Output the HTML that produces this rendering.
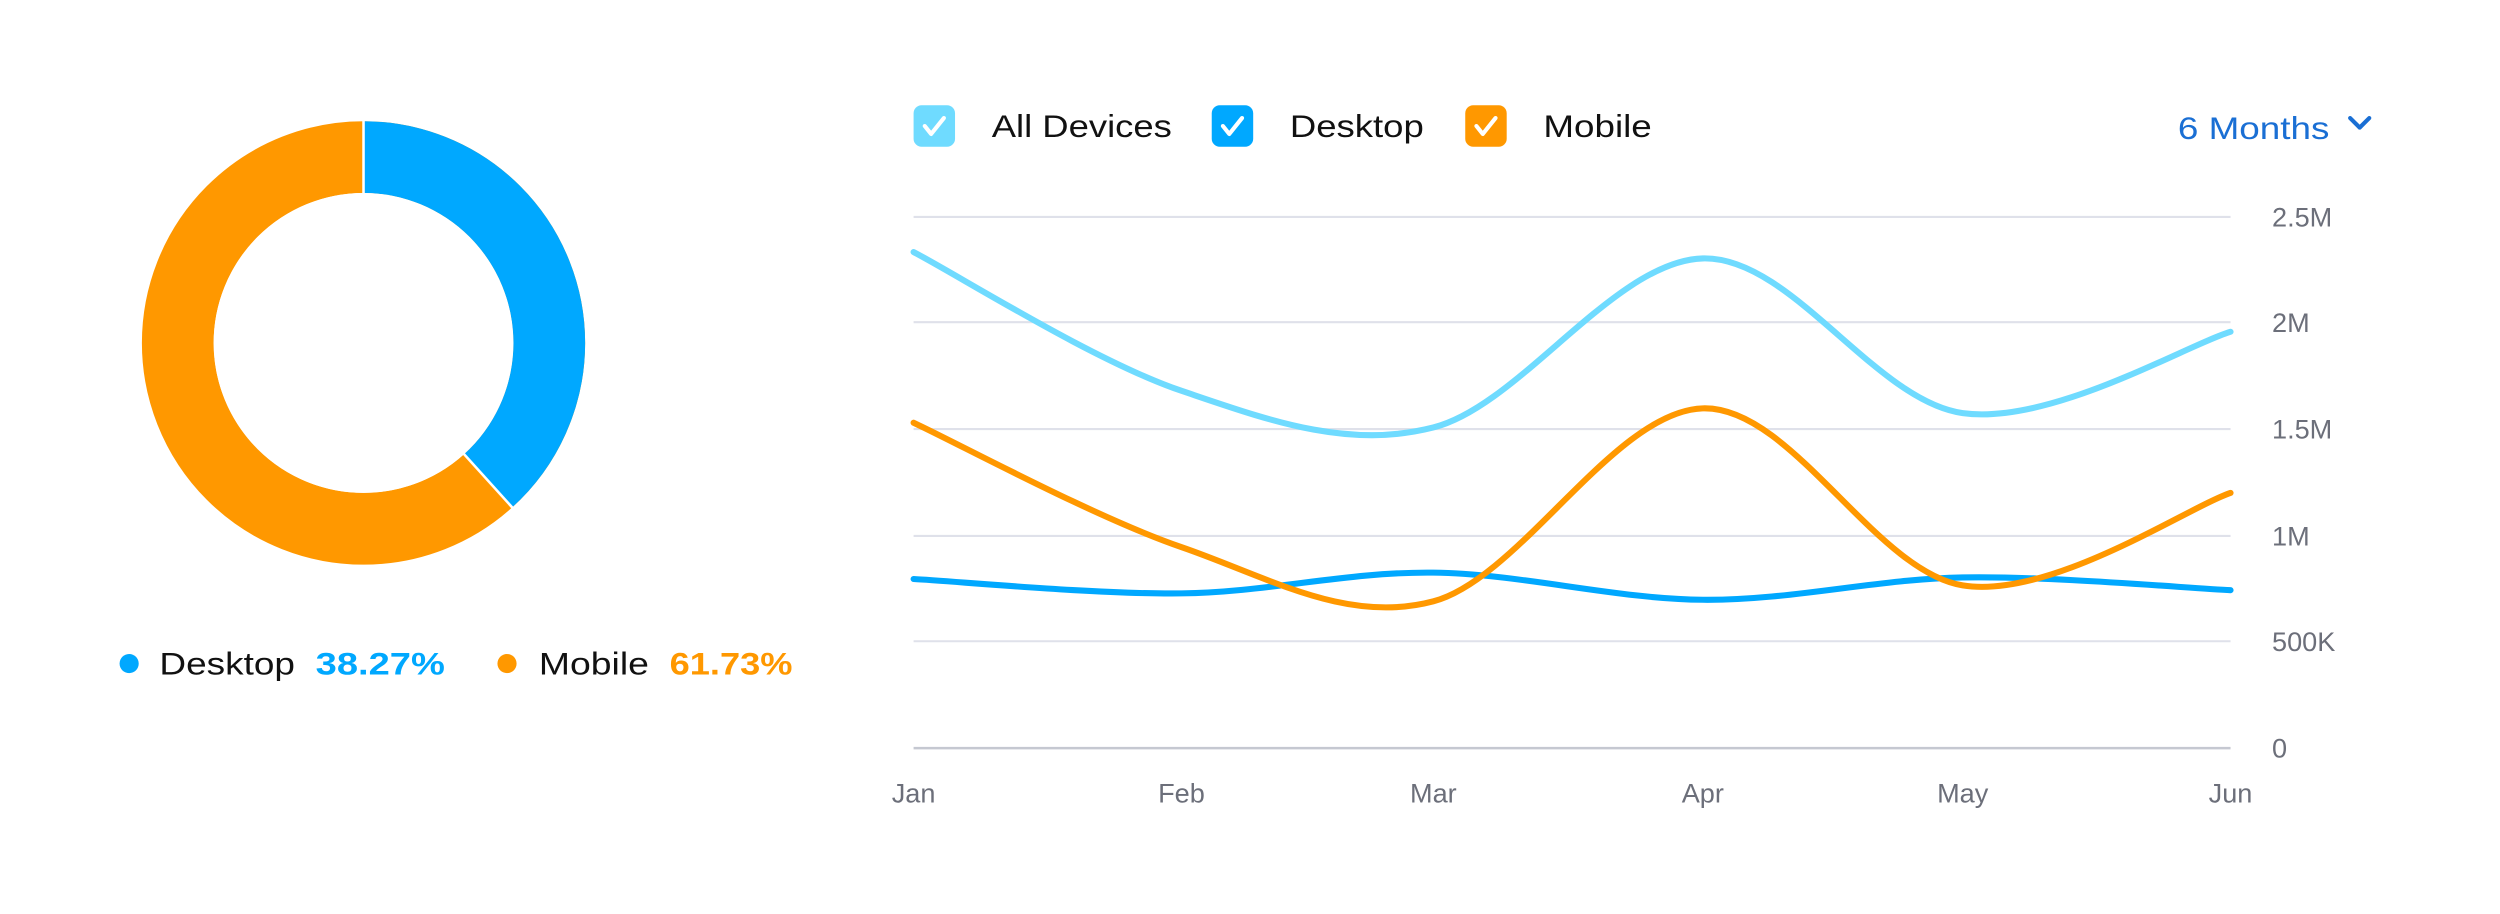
<!DOCTYPE html>
<html><head><meta charset="utf-8">
<style>
html,body{margin:0;padding:0;background:#fff;}
svg{display:block;width:2500px;height:914px;}
text{font-family:"Liberation Sans",sans-serif;}
</style></head>
<body>
<svg viewBox="0 0 1568 573" preserveAspectRatio="none" xmlns="http://www.w3.org/2000/svg">
  <circle cx="228" cy="215" r="116.5" fill="none" stroke="#ff9800" stroke-width="45"/>
  <circle cx="228" cy="215" r="116.5" fill="none" stroke="#00a8ff" stroke-width="45"
    stroke-dasharray="280.13 1000" transform="rotate(-90 228 215)"/>
  <line x1="228" y1="215" x2="228" y2="74" stroke="#fff" stroke-width="1.6"/>
  <line x1="228" y1="215" x2="322.5" y2="319.5" stroke="#fff" stroke-width="1.6"/>
  <circle cx="228" cy="215" r="94" fill="#fff"/>

  <circle cx="81" cy="416" r="6" fill="#00a8ff"/>
  <text x="100" y="423" font-size="20" fill="#111" textLength="85" lengthAdjust="spacingAndGlyphs">Desktop</text>
  <text x="198" y="423" font-size="20" font-weight="bold" fill="#00a8ff" textLength="81" lengthAdjust="spacingAndGlyphs">38.27%</text>
  <circle cx="318" cy="416" r="6" fill="#ff9800"/>
  <text x="338" y="423" font-size="20" fill="#111" textLength="69" lengthAdjust="spacingAndGlyphs">Mobile</text>
  <text x="420" y="423" font-size="20" font-weight="bold" fill="#ff9800" textLength="77" lengthAdjust="spacingAndGlyphs">61.73%</text>

  <rect x="573" y="66" width="26" height="26" rx="5" fill="#6fdbff"/>
  <path d="M580,79 l4,5 l8,-10" fill="none" stroke="#fff" stroke-width="2.6" stroke-linecap="round" stroke-linejoin="round"/>
  <text x="622" y="86" font-size="20" fill="#111" textLength="113" lengthAdjust="spacingAndGlyphs">All Devices</text>
  <rect x="760" y="66" width="26" height="26" rx="5" fill="#00a8ff"/>
  <path d="M767,79 l4,5 l8,-10" fill="none" stroke="#fff" stroke-width="2.6" stroke-linecap="round" stroke-linejoin="round"/>
  <text x="809" y="86" font-size="20" fill="#111" textLength="84" lengthAdjust="spacingAndGlyphs">Desktop</text>
  <rect x="919" y="66" width="26" height="26" rx="5" fill="#ff9800"/>
  <path d="M926,79 l4,5 l8,-10" fill="none" stroke="#fff" stroke-width="2.6" stroke-linecap="round" stroke-linejoin="round"/>
  <text x="968" y="86" font-size="20" fill="#111" textLength="68" lengthAdjust="spacingAndGlyphs">Mobile</text>

  <text x="1366" y="87" font-size="20" fill="#1a6fd4" textLength="95" lengthAdjust="spacingAndGlyphs">6 Months</text>
  <path d="M1474,74 l6,6 l6,-6" fill="none" stroke="#1a6fd4" stroke-width="2.6" stroke-linecap="round" stroke-linejoin="round"/>

  <g stroke="#dfe1ea" stroke-width="1.3">
    <line x1="573" y1="136" x2="1399" y2="136"/>
    <line x1="573" y1="202" x2="1399" y2="202"/>
    <line x1="573" y1="269" x2="1399" y2="269"/>
    <line x1="573" y1="336" x2="1399" y2="336"/>
    <line x1="573" y1="402" x2="1399" y2="402"/>
  </g>
  <line x1="573" y1="469" x2="1399" y2="469" stroke="#c5c8d1" stroke-width="1.6"/>

  <g font-size="17" fill="#6c6f7a">
    <text x="1425" y="142">2.5M</text>
    <text x="1425" y="208">2M</text>
    <text x="1425" y="275">1.5M</text>
    <text x="1425" y="342">1M</text>
    <text x="1425" y="408">500K</text>
    <text x="1425" y="475">0</text>
  </g>
  <g font-size="17" fill="#6c6f7a" text-anchor="middle">
    <text x="573" y="503">Jan</text>
    <text x="741" y="503">Feb</text>
    <text x="899" y="503">Mar</text>
    <text x="1068" y="503">Apr</text>
    <text x="1231" y="503">May</text>
    <text x="1399" y="503">Jun</text>
  </g>

  <path id="pAll" fill="none" stroke="#6fdbff" stroke-width="3.8" stroke-linecap="round"/>
  <path id="pDesk" fill="none" stroke="#00a8ff" stroke-width="3.8" stroke-linecap="round"/>
  <path id="pMob" fill="none" stroke="#ff9800" stroke-width="3.8" stroke-linecap="round"/>
</svg>
<script>
function cr(p){
  var d="M"+p[0][0]+","+p[0][1];
  for(var i=0;i<p.length-1;i++){
    var p0=p[i-1]||p[i],p1=p[i],p2=p[i+1],p3=p[i+2]||p2;
    var c1x=p1[0]+(p2[0]-p0[0])/6,c1y=p1[1]+(p2[1]-p0[1])/6;
    var c2x=p2[0]-(p3[0]-p1[0])/6,c2y=p2[1]-(p3[1]-p1[1])/6;
    d+=" C"+c1x+","+c1y+" "+c2x+","+c2y+" "+p2[0]+","+p2[1];
  }
  return d;
}
document.getElementById("pAll").setAttribute("d",cr([[573,158],[741,245],[899,268],[1068,162],[1231,259],[1399,208]]));
document.getElementById("pDesk").setAttribute("d",cr([[573,363],[741,372],[899,359],[1068,376],[1231,362],[1399,370]]));
document.getElementById("pMob").setAttribute("d",cr([[573,265],[741,343],[899,377],[1068,256],[1231,367],[1399,309]]));
</script>
</body></html>
